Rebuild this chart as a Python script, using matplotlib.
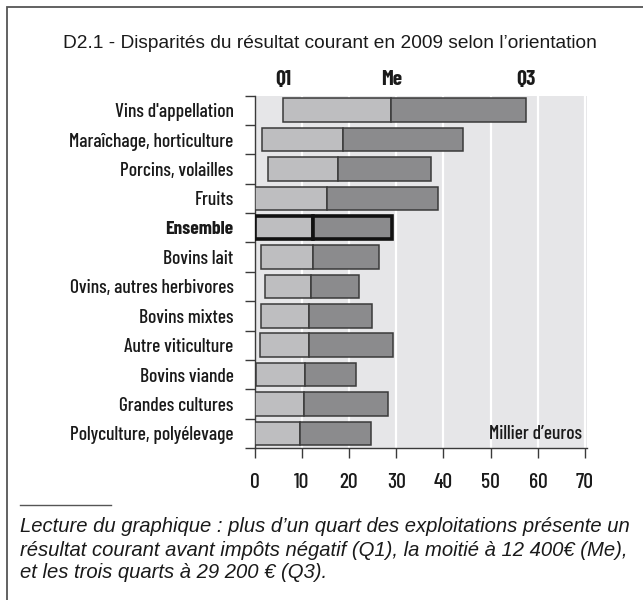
import matplotlib
matplotlib.use("Agg")
import matplotlib.pyplot as plt
from matplotlib.patches import Rectangle
from matplotlib.lines import Line2D

categories = ["Vins d'appellation", "Maraîchage, horticulture", "Porcins, volailles",
              "Fruits", "Ensemble", "Bovins lait", "Ovins, autres herbivores",
              "Bovins mixtes", "Autre viticulture", "Bovins viande",
              "Grandes cultures", "Polyculture, polyélevage"]
q1 = [6.0, 1.6, 2.9, 0.0, 0.0, 1.4, 2.3, 1.4, 1.2, 0.3, 0.0, 0.0]
me = [29.0, 18.8, 17.6, 15.3, 12.4, 12.3, 12.0, 11.6, 11.6, 10.6, 10.5, 9.6]
q3 = [57.4, 44.1, 37.4, 38.8, 29.2, 26.3, 22.1, 24.9, 29.4, 21.4, 28.2, 24.6]
xticks = [0, 10, 20, 30, 40, 50, 60, 70]
highlight = "Ensemble"

W, H = 643, 600
fig = plt.figure(figsize=(W / 100, H / 100), dpi=100)
fig.patch.set_facecolor("white")

narrow = "Barlow Condensed"
helv = "Liberation Sans"
light = "#bebec0"
dark = "#8b8b8d"
bg = "#e6e6e8"
edge = "#3a3a3a"
txtc = "#1a1a1a"

ax = fig.add_axes([254.5 / W, 1 - 448 / H, (587 - 254.5) / W, (448 - 95.5) / H])
ax.set_facecolor(bg)
ax.set_xlim(0, 70.4)
ax.set_ylim(len(categories) - 0.5, -0.5)

for x in xticks[1:]:
    ax.axvline(x, color="white", lw=1.6, zorder=1)

ypos = list(range(len(categories)))
for i, cat in enumerate(categories):
    hl = cat == highlight
    lw = 2.6 if hl else 1.1
    ec = "#111111" if hl else edge
    ax.barh(i, me[i] - q1[i], left=q1[i], height=0.8, color=light,
            edgecolor=ec, linewidth=lw, zorder=3)
    ax.barh(i, q3[i] - me[i], left=me[i], height=0.8, color=dark,
            edgecolor=ec, linewidth=lw, zorder=3)

for s in ["top", "right"]:
    ax.spines[s].set_visible(False)
for s in ["left", "bottom"]:
    ax.spines[s].set_color(edge)
    ax.spines[s].set_linewidth(1.0)

ax.set_yticks(ypos)
ax.set_yticklabels(categories)
ax.set_yticks([y - 0.5 for y in ypos] + [len(categories) - 0.5], minor=True)
ax.tick_params(axis="y", which="major", length=0, pad=15)
ax.tick_params(axis="y", which="minor", length=7, color=edge, width=1.0)
for lab in ax.get_yticklabels():
    lab.set_fontfamily(narrow)
    lab.set_fontsize(14)
    lab.set_fontweight(500)
    lab.set_color(txtc)
    if lab.get_text() == highlight:
        lab.set_fontweight("bold")

ax.set_xticks(xticks)
ax.set_xticklabels([str(v) for v in xticks])
ax.tick_params(axis="x", which="major", length=7, color=edge, width=1.0, pad=11)
for lab in ax.get_xticklabels():
    lab.set_fontfamily(narrow)
    lab.set_fontsize(15.5)
    lab.set_fontweight(500)
    lab.set_color(txtc)

# quartile headers placed above first row's quartiles
for val, txt in zip([q1[0], me[0], q3[0]], ["Q1", "Me", "Q3"]):
    ax.annotate(txt, xy=(val, -0.5), xycoords="data", xytext=(0, 5),
                textcoords="offset points", ha="center", va="bottom",
                fontfamily=narrow, fontweight="bold", fontsize=15.5,
                color=txtc, annotation_clip=False)

ax.text(0.985, 0.04, "Millier d’euros", transform=ax.transAxes, ha="right",
        va="center", fontfamily=narrow, fontweight=500, fontsize=14, color=txtc)

fig.text(330 / W, 1 - 43 / H,
         "D2.1 - Disparités du résultat courant en 2009 selon l’orientation",
         ha="center", va="center", fontfamily=helv, fontsize=13.75, color=txtc)

# outer frame
fig.add_artist(Rectangle((7 / W, -0.1), 2.0, 1.1 - 7 / H,
                         transform=fig.transFigure, fill=False,
                         edgecolor="#555555", linewidth=1.3))
fig.add_artist(Line2D([20 / W, 111 / W], [1 - 505 / H, 1 - 505 / H],
                      transform=fig.transFigure, color="#555555", lw=1.0))

foot = ["Lecture du graphique : plus d’un quart des exploitations présente un",
        "résultat courant avant impôts négatif (Q1), la moitié à 12 400€ (Me),",
        "et les trois quarts à 29 200 € (Q3)."]
for k, line in enumerate(foot):
    fig.text(20 / W, 1 - (527 + 23 * k) / H, line, ha="left", va="center",
             fontfamily=helv, style="italic", fontsize=14.6, color=txtc)

fig.savefig("out.png", dpi=100, facecolor="white")
